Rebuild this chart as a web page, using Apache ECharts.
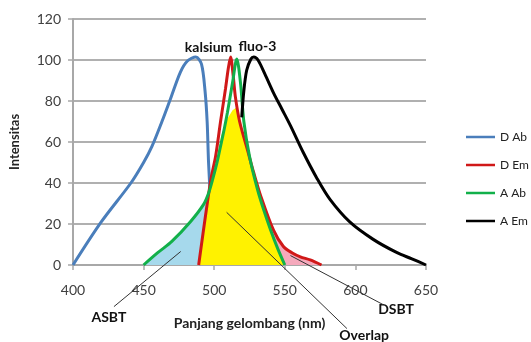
<!DOCTYPE html>
<html>
<head>
<meta charset="utf-8">
<script src="https://cdn.jsdelivr.net/npm/echarts@6/dist/echarts.min.js"></script>
<style>
  html, body { margin: 0; padding: 0; background: #fff; }
  #chart { width: 531px; height: 342px; }
</style>
</head>
<body>
<div id="chart"></div>
<script>
// spektrum (panjang gelombang nm, intensitas)
var dAb = [[400,0],[420,21],[441,40],[450,50],[456,58],[463,70],[469,81],[476,94],[481,99.5],[487,101.5],[491,98],[493.5,85],[495,70],[496,50],[497.5,30],[499,10],[500,0]];
var dEm = [[489,0],[492,15],[495.5,32],[498,43],[501,53],[504.5,70],[508,86],[510,96],[511.6,101.5],[513.5,92],[515,82],[518,70],[523.6,56],[528,45],[533,33.6],[542,17],[549,9],[555,6],[561,4],[568,2.5],[576,0]];
var aAb = [[450,0],[460,6],[470,11.5],[483,21],[492.5,29.6],[496,35],[499,42],[502,50],[504.5,58],[507,66],[509.4,74.5],[513,89],[516,100.5],[518.6,89],[521,70],[525,53],[530.6,37],[535,27],[540,17],[545,8],[550,0]];
var aEm = [[519.5,72],[521,85],[523,95],[526,100.5],[528,101.5],[531,100],[536,93],[542,84],[548,76],[554,68],[563,55],[573,42],[582,32],[596,21],[612.6,12.5],[629.5,6],[640,3],[650,0]];

// daerah arsiran
var asbtArea = [[450,0],[460,6],[470,11.5],[483,21],[492.5,29.6],[496,34],[495.5,32],[492,15],[489,0]];
var overlapArea = [[489,0],[495.5,32],[499,42],[502,52],[505,63],[509,71],[513,75.5],[516,77],[519,68],[522,60],[525,52],[530.6,37],[535,27],[540,17],[545,8],[550,0]];
var dsbtArea = [[550,0],[545,8],[540,17],[536,27],[542,17],[549,9],[555,6],[561,4],[568,2.5],[576,0]];

var legendNames = ['D Ab', 'D Em', 'A Ab', 'A Em'];
var xTicks = [400, 450, 500, 550, 600, 650];
var yTicks = [0, 20, 40, 60, 80, 100, 120];

// label anotasi: [teks, x, y, garis dari, garis ke]
var notes = [
  ['kalsium', 496, 105.9, null, null],
  ['fluo-3', 530.6, 106.8, null, null],
  ['ASBT', 425.4, -25.7, [429, -20.3], [476.3, 6.6]],
  ['DSBT', 628.8, -21.8, [554, 4.6], [619.6, -19.3]],
  ['Overlap', 606.2, -34.5, [508.8, 25.7], [594, -31]]
];

var font = 'Lato, "Open Sans", sans-serif';
var chart = echarts.init(document.getElementById('chart'));

function lineSeries(name, data, color, z) {
  return {
    name: name, type: 'line', data: data, smooth: 0.3, symbol: 'none', z: z,
    lineStyle: { color: color, width: 3 }, itemStyle: { color: color }
  };
}
function areaSeries(name, data, color) {
  return {
    name: name, type: 'line', data: data, smooth: false, symbol: 'none', silent: true, z: 3,
    lineStyle: { width: 0 }, areaStyle: { color: color, opacity: 1 }
  };
}

var option = {
  animation: false,
  backgroundColor: '#fff',
  grid: { left: 72, right: 105, top: 19, bottom: 77 },
  legend: {
    data: legendNames, orient: 'vertical', left: 461, top: 126,
    icon: 'rect', itemWidth: 29, itemHeight: 2.5, itemGap: 16,
    textStyle: { fontFamily: font, fontSize: 12, color: '#222' }
  },
  xAxis: {
    type: 'value', min: 400, max: 650, interval: 50,
    name: 'Panjang gelombang (nm)', nameLocation: 'middle', nameGap: 51,
    nameTextStyle: { fontFamily: font, fontWeight: 'bold', fontSize: 14, color: '#222' },
    axisLine: { lineStyle: { color: '#a8a8a8', width: 2 } },
    axisTick: { show: true, length: 5, lineStyle: { color: '#a8a8a8', width: 1.5 } },
    axisLabel: { margin: 18, fontFamily: font, fontSize: 14, color: '#404040',
      formatter: function (v) { return xTicks.indexOf(v) >= 0 ? String(v) : ''; } },
    splitLine: { show: false }
  },
  yAxis: {
    type: 'value', min: 0, max: 120, interval: 20,
    name: 'Intensitas', nameLocation: 'middle', nameGap: 52, nameRotate: 90,
    nameTextStyle: { fontFamily: font, fontWeight: 'bold', fontSize: 13, color: '#222' },
    axisLine: { show: true, lineStyle: { color: '#a8a8a8', width: 2 } },
    axisTick: { show: true, length: 5, lineStyle: { color: '#a8a8a8', width: 1.5 } },
    axisLabel: { margin: 12, fontFamily: font, fontSize: 14, color: '#404040',
      formatter: function (v) { return yTicks.indexOf(v) >= 0 ? String(v) : ''; } },
    splitLine: { lineStyle: { color: '#b0b0b0', width: 2 } }
  },
  series: [
    lineSeries('D Ab', dAb, '#4a7ebb', 2),
    areaSeries('ASBT', asbtArea, '#a6d9ec'),
    areaSeries('Overlap', overlapArea, '#fff200'),
    areaSeries('DSBT', dsbtArea, '#f5a9bc'),
    lineSeries('D Em', dEm, '#d01818', 4),
    lineSeries('A Ab', aAb, '#12b04a', 4),
    lineSeries('A Em', aEm, '#000000', 4)
  ]
};
chart.setOption(option);

// teks anotasi dan garis penunjuk
var g = [];
notes.forEach(function (n) {
  var p = chart.convertToPixel({ gridIndex: 0 }, [n[1], n[2]]);
  g.push({ type: 'text', x: p[0], y: p[1], z: 100,
    style: { text: n[0], fontFamily: font, fontWeight: 'bold', fontSize: 14, fill: '#111',
      align: 'center', verticalAlign: 'middle' } });
  if (n[3]) {
    var a = chart.convertToPixel({ gridIndex: 0 }, n[3]);
    var b = chart.convertToPixel({ gridIndex: 0 }, n[4]);
    g.push({ type: 'line', z: 100, shape: { x1: a[0], y1: a[1], x2: b[0], y2: b[1] },
      style: { stroke: '#333', lineWidth: 1 } });
  }
});
chart.setOption({ graphic: g });
</script>
</body>
</html>
